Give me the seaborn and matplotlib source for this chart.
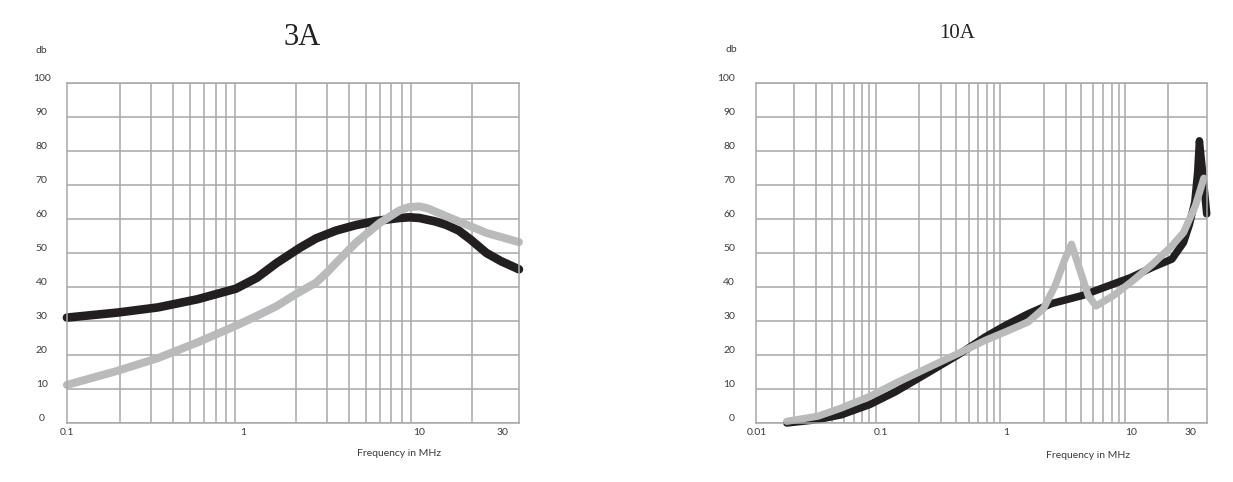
import matplotlib
matplotlib.use('Agg')
import matplotlib.pyplot as plt
import matplotlib.transforms as mtransforms
import seaborn as sns

# 3A panel
freq_3a_black = [0.0998, 0.195, 0.329, 0.552, 0.912, 1.20, 1.56, 2.12, 2.61, 3.39, 4.39, 5.69, 7.76, 8.9,
                 10.1, 12.4, 14.3, 16.9, 19.8, 24.3, 29.4, 37.2]
db_3a_black = [31, 32.5, 34, 36.4, 39.5, 42.7, 47.1, 51.6, 54.3, 56.6, 58.2, 59.4, 60.3, 60.5,
               60.3, 59.3, 58.3, 56.6, 53.9, 50, 47.6, 45.2]
freq_3a_grey = [0.0998, 0.195, 0.329, 0.552, 0.912, 1.20, 1.56, 2.0, 2.61, 3.0, 3.39, 4.39, 5.99, 7.76,
                8.8, 10.1, 11.3, 12.4, 16.9, 24.3, 37.2]
db_3a_grey = [11.2, 15.4, 19.1, 23.7, 28.6, 31.5, 34.4, 37.9, 41.3, 44.2, 47.1, 53, 58.8, 62.5,
              63.5, 63.7, 63.1, 62.2, 59.3, 55.9, 53.2]

# 10A panel
freq_10a_black = [0.0175, 0.031, 0.0477, 0.0805, 0.130, 0.232, 0.411, 0.679, 0.987, 1.50, 2.30, 4.08,
                  7.26, 10.0, 14.9, 21.3, 26.4, 29.5, 32.5, 34.3, 35.4, 37.5, 40.5]
db_10a_black = [0, 1, 2.4, 5.4, 9.2, 14.6, 20, 25.3, 28.7, 32.1, 35.1, 37.5,
                40.9, 42.8, 45.8, 48.2, 53.1, 58.5, 65, 74, 83, 74, 61.5]
freq_10a_grey = [0.0175, 0.031, 0.0477, 0.0805, 0.130, 0.232, 0.411, 0.679, 0.987, 1.50, 1.99, 2.47,
                 2.96, 3.34, 3.80, 4.55, 5.25, 7.26, 10.0, 14.9, 21.3, 26.4, 32.8, 38.4]
db_10a_grey = [0.5, 2, 4.4, 7.8, 11.7, 16.1, 20.4, 24.3, 26.8, 29.7, 33.6, 40.4,
               48.2, 52.6, 46.3, 37.5, 34.4, 37.5, 41.4, 46.7, 52.1, 56, 63.8, 72]

ticks_3a = [0.1, 1, 10, 30]
ticks_10a = [0.01, 0.1, 1, 10, 30]
db_ticks = list(range(0, 101, 10))

sns.set_style('white')
plt.rcParams['font.family'] = ['Lato', 'DejaVu Sans']

BLACK = '#231f20'
GREY = '#b9babc'
GRID = '#a8a8a8'
TXT = '#3a3a3a'

fig = plt.figure(figsize=(12.33, 4.82), dpi=100)
ax1 = fig.add_axes([0.0541, 0.1224, 0.3668, 0.7054])
ax2 = fig.add_axes([0.6131, 0.1224, 0.3658, 0.7054])


def grid_values(decades, top):
    vals = []
    for d in decades:
        vals += [d * k for k in range(2, 10)]
        vals.append(d * 10)
    vals.append(top)
    return vals


def style_axis(ax, xlim, ticks, labels, minor, ypad, yha, lw):
    ax.set_xscale('log')
    ax.set_xlim(*xlim)
    ax.set_ylim(0, 100)
    ax.set_xticks(ticks)
    ax.set_xticklabels(labels)
    ax.set_xticks(minor, minor=True)
    ax.set_xticklabels([], minor=True)
    ax.set_yticks(db_ticks)
    ax.set_yticklabels([str(v) for v in db_ticks])
    ax.xaxis.grid(True, which='minor', color=GRID, linewidth=lw)
    ax.xaxis.grid(False, which='major')
    ax.yaxis.grid(True, which='major', color=GRID, linewidth=lw)
    ax.set_axisbelow(True)
    ax.tick_params(axis='both', which='both', length=0, labelsize=7.5, labelcolor=TXT)
    ax.tick_params(axis='x', pad=3.5)
    ax.tick_params(axis='y', pad=ypad)
    shift = mtransforms.ScaledTranslation(0, 6 / 100, fig.dpi_scale_trans)
    for lab in ax.get_yticklabels():
        lab.set_horizontalalignment(yha)
        lab.set_transform(lab.get_transform() + shift)
    for s in ax.spines.values():
        s.set_visible(True)
        s.set_color(GRID)
        s.set_linewidth(lw)
    ax.set_xlabel('')
    ax.set_ylabel('')


line_kw = dict(solid_capstyle='round', solid_joinstyle='round', clip_on=False)

sns.lineplot(x=freq_3a_black, y=db_3a_black, ax=ax1, color=BLACK, linewidth=6.2, sort=False, **line_kw)
sns.lineplot(x=freq_3a_grey, y=db_3a_grey, ax=ax1, color=GREY, linewidth=5.8, sort=False, **line_kw)
style_axis(ax1, (0.0995, 37.2), ticks_3a, ['0.1', '1', '10', '30'],
           grid_values([0.1, 1], 20), 18, 'center', 1.1)

sns.lineplot(x=freq_10a_black, y=db_10a_black, ax=ax2, color=BLACK, linewidth=5.4, sort=False, **line_kw)
sns.lineplot(x=freq_10a_grey, y=db_10a_grey, ax=ax2, color=GREY, linewidth=5.2, sort=False, **line_kw)
style_axis(ax2, (0.0099, 40.7), ticks_10a, ['0.01', '0.1', '1', '10', '30'],
           grid_values([0.01, 0.1, 1], 20), 15, 'right', 1.1)

W, H = 1233, 482
fig.text(302 / W, 1 - 37.5 / H, '3A', family='Liberation Serif', fontsize=22, color='#222222',
         ha='center', va='center')
fig.text(957 / W, 1 - 34 / H, '10A', family='Liberation Serif', fontsize=15, color='#222222',
         ha='center', va='center')
fig.text(41.5 / W, 1 - 50.5 / H, 'db', fontsize=7.5, color=TXT, ha='center', va='center')
fig.text(731 / W, 1 - 50 / H, 'db', fontsize=7.5, color=TXT, ha='center', va='center')
fig.text(399 / W, 1 - 453 / H, 'Frequency in MHz', fontsize=7.5, color=TXT, ha='center', va='center')
fig.text(1088 / W, 1 - 455 / H, 'Frequency in MHz', fontsize=7.5, color=TXT, ha='center', va='center')

fig.savefig('out.png', dpi=100, facecolor='white')
